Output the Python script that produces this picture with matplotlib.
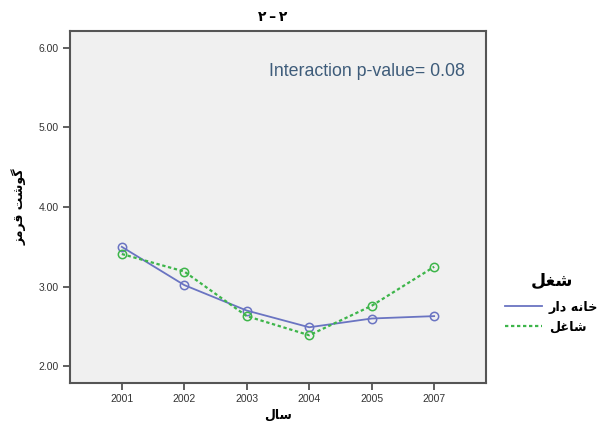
import matplotlib
matplotlib.use("Agg")
import matplotlib.pyplot as plt

# Data
years = ["2001", "2002", "2003", "2004", "2005", "2007"]
housewife = [3.50, 3.02, 2.70, 2.49, 2.60, 2.63]
employed = [3.41, 3.19, 2.63, 2.39, 2.76, 3.25]
yticks = [2.0, 3.0, 4.0, 5.0, 6.0]

# Arabic-script labels (visual order, presentation forms)
title_txt = "\u06F2\u2009\u2013\u2009\u06F2"
ylabel_txt = "\uFEB0\uFEE3\uFEAE\uFED7 \uFE96\uFEB7\uFEEE\uFB94"   # گوشت قرمز
xlabel_txt = "\uFEDD\uFE8E\uFEB3"                                 # سال
legend_title = "\uFEDE\uFED0\uFEB7"                               # شغل
lab_house = "\uFEAD\uFE8D\uFEA9 \uFEEA\uFEE7\uFE8E\uFEA7"          # خانه دار
lab_emp = "\uFEDE\uFECF\uFE8E\uFEB7"                              # شاغل

plt.rcParams['font.family'] = ['DejaVu Sans']

fig = plt.figure(figsize=(6.03, 4.22), dpi=100)
ax = fig.add_axes([0.116, 0.0924, 0.690, 0.834])
ax.set_facecolor("#F0F0F0")

x = list(range(len(years)))
blue = "#6A74C2"
green = "#3DB54A"
ax.plot(x, housewife, color=blue, lw=1.3, marker='o', ms=6,
        mfc='none', mec=blue, mew=1.1, label=lab_house, zorder=3)
ax.plot(x, employed, color=green, lw=1.6, ls=(0, (1.5, 1.2)), marker='o', ms=6,
        mfc='none', mec=green, mew=1.1, label=lab_emp, zorder=3)

ax.set_xlim(-0.83, 5.83)
ax.set_ylim(1.79, 6.21)
ax.set_xticks(x)
ax.set_xticklabels(years)
ax.set_yticks(yticks)
ax.set_yticklabels([f"{v:.2f}" for v in yticks])
ax.tick_params(axis='both', direction='out', length=5, width=1.2,
               color="#444444", labelsize=7.5, labelcolor="#333333", pad=3)
for lab in ax.get_xticklabels() + ax.get_yticklabels():
    lab.set_family(['Liberation Sans', 'DejaVu Sans'])

for s in ax.spines.values():
    s.set_color("#555555")
    s.set_linewidth(1.5)

ax.set_ylabel(ylabel_txt, fontsize=9, fontweight='bold', labelpad=9)
ax.set_xlabel(xlabel_txt, fontsize=9, fontweight='bold', labelpad=3)
fig.text(0.452, 0.960, title_txt, ha='center', va='center', fontsize=10,
         fontweight='bold')

ax.text(0.95, 0.885, "Interaction p-value= 0.08", transform=ax.transAxes,
        ha='right', va='center', fontsize=12.8, color="#3E5C7A",
        family=['Liberation Sans', 'DejaVu Sans'])

leg = ax.legend(title=legend_title, loc='center left',
                bbox_to_anchor=(1.03, 0.228), frameon=False, borderpad=0,
                prop={'size': 9.2, 'weight': 'bold'},
                title_fontproperties={'size': 12.5, 'weight': 'bold'},
                handlelength=2.9, handletextpad=0.55, labelspacing=0.55)
leg._legend_box.sep = 8
for h in leg.legend_handles:
    h.set_marker('')

fig.savefig("out.png", dpi=100)
